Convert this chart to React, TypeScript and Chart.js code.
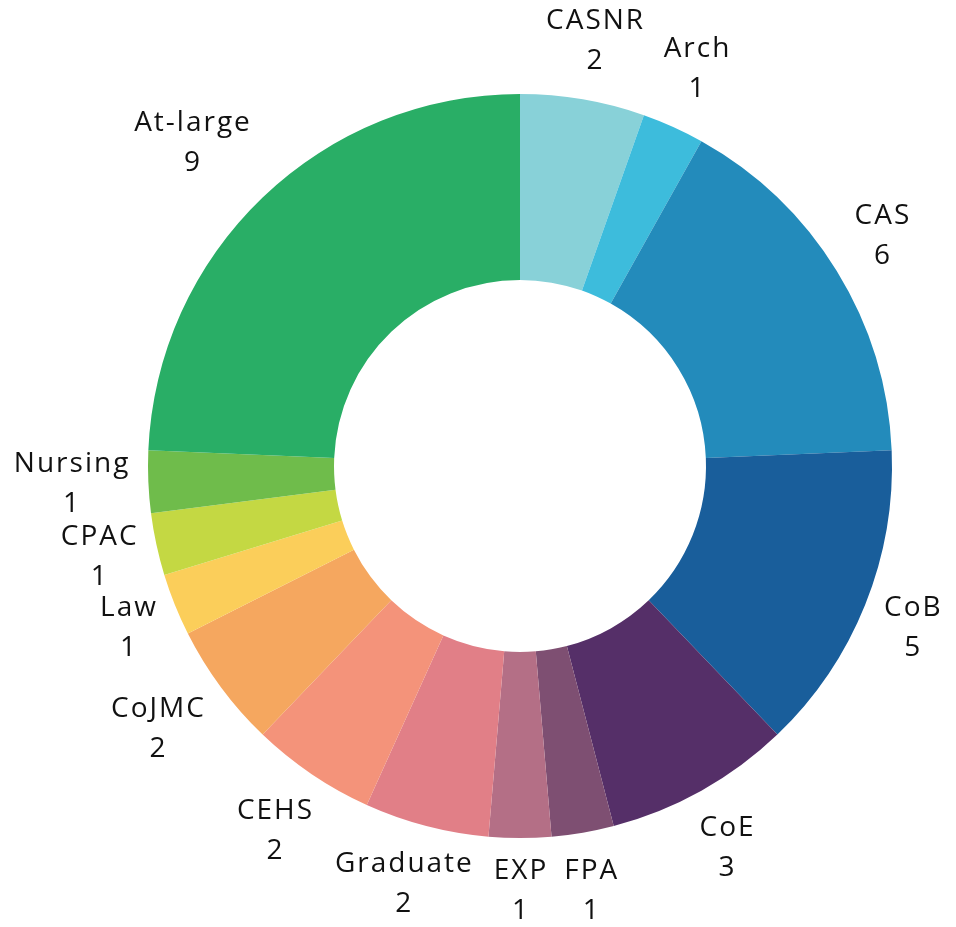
import { useEffect, useRef } from "react";
import { Chart, registerables } from "chart.js";

Chart.register(...registerables);

const labels = ["CASNR", "Arch", "CAS", "CoB", "CoE", "FPA", "EXP", "Graduate", "CEHS", "CoJMC", "Law", "CPAC", "Nursing", "At-large"];
const values = [2, 1, 6, 5, 3, 1, 1, 2, 2, 2, 1, 1, 1, 9];
const colors = ["#88d1d8", "#3dbcdc", "#238bbb", "#195e9b", "#552f68", "#7e4f72", "#b46f86", "#e17f87", "#f4937a", "#f5a75f", "#fbce5a", "#c4d843", "#6fbc4b", "#29ae66"];

const FONT = '28px "Open Sans"';
const LETTER_SPACING = "2px";
const LINE_H = 40;
const PAD = 4;
const OFFSET = 15;
const BOTTOM_GAP = 8;

const labelPlugin = {
  id: "outerLabels",
  afterDatasetsDraw(chart: any) {
    const ctx = chart.ctx;
    const meta = chart.getDatasetMeta(0);
    ctx.save();
    ctx.font = FONT;
    try {
      (ctx as any).letterSpacing = LETTER_SPACING;
    } catch (e) {}
    ctx.fillStyle = "#111";
    ctx.textAlign = "center";
    ctx.textBaseline = "middle";
    meta.data.forEach((arc: any, i: number) => {
      const p = arc.getProps(["x", "y", "startAngle", "endAngle", "outerRadius"], true);
      const a = (p.startAngle + p.endAngle) / 2;
      const vx = Math.cos(a);
      const vy = Math.sin(a);
      const ax = p.x + vx * p.outerRadius;
      const ay = p.y + vy * p.outerRadius;
      const lines = [labels[i], String(values[i])];
      const w = Math.max(...lines.map((l) => ctx.measureText(l).width)) + 2 * PAD;
      const h = lines.length * LINE_H + 2 * PAD;
      const vs = 1 / Math.max(Math.abs(vx), Math.abs(vy));
      const cx = ax + (w / 2) * vx * vs + OFFSET * vx;
      let top = ay + (h / 2) * vy * vs + OFFSET * vy - h / 2;
      // keep the last line inside the canvas
      const lastCenter = top + PAD + LINE_H * (lines.length - 0.5);
      const maxCenter = chart.height - BOTTOM_GAP;
      if (lastCenter > maxCenter) top -= lastCenter - maxCenter;
      lines.forEach((l, j) => ctx.fillText(l, cx + 1, top + PAD + LINE_H * (j + 0.5)));
    });
    ctx.restore();
  },
};

export default function App() {
  const ref = useRef<HTMLCanvasElement>(null);
  useEffect(() => {
    if (!ref.current) return;
    const chart = new Chart(ref.current, {
      type: "doughnut",
      data: {
        labels,
        datasets: [{ data: values, backgroundColor: colors, borderWidth: 0 }],
      },
      options: {
        animation: false,
        responsive: true,
        maintainAspectRatio: false,
        cutout: "50%",
        layout: { padding: { left: 140, right: 56, top: 86, bottom: 81 } },
        plugins: { legend: { display: false }, tooltip: { enabled: false } },
      },
      plugins: [labelPlugin],
    });
    return () => chart.destroy();
  }, []);
  return (
    <div style={{ width: 940, height: 911, position: "relative" }}>
      <canvas ref={ref} />
    </div>
  );
}
